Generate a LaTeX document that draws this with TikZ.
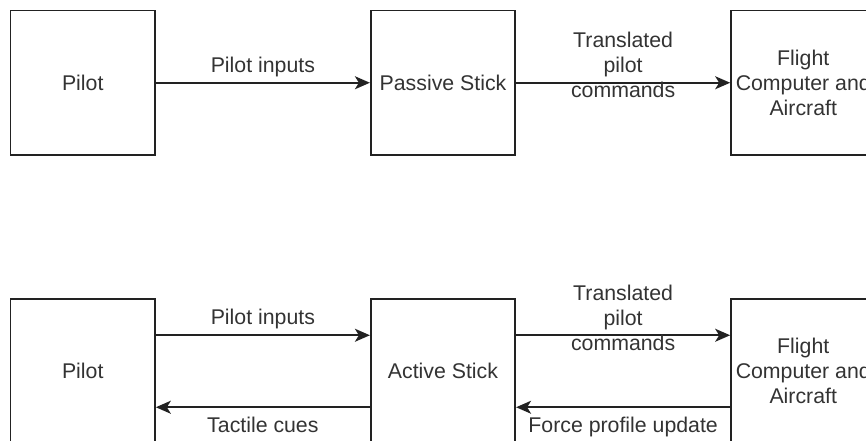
\documentclass[tikz,border=0pt]{standalone}
\usepackage{fontspec}
\setmainfont{Liberation Sans}
\usetikzlibrary{arrows.meta}
\definecolor{linecol}{HTML}{222222}
\definecolor{textcol}{HTML}{333333}
\begin{document}
\begin{tikzpicture}[x=1pt,y=-1pt,
  blockbox/.style={draw=linecol, line width=1.7pt, minimum width=144.5pt,
    minimum height=144.5pt, inner sep=0pt, align=center,
    font=\fontsize{21.3}{25}\selectfont, text=textcol},
  flow/.style={draw=linecol, line width=1.7pt,
    -{Stealth[length=15pt,width=13pt,inset=4pt]}},
  lbl/.style={font=\fontsize{21.3}{25}\selectfont, text=textcol,
    align=center, inner sep=0pt, anchor=base}]
\useasboundingbox (0,0) rectangle (866,441);
\clip (0,0) rectangle (866,441);

% passive stick loop
\node[blockbox] (pilotA)  at (82.75,82.75)  {Pilot};
\node[blockbox] (passive) at (443,82.75)    {Passive Stick};
\node[blockbox] (fcA)     at (803.25,82.75) {Flight\\Computer and\\Aircraft};

\draw[flow] (pilotA) -- node[lbl, yshift=10.5pt] {Pilot inputs} (passive);
\draw[flow] (passive) -- node[lbl, yshift=-15pt] {Translated\\pilot\\commands} (fcA);

% active stick loop
\node[blockbox] (pilotB) at (82.75,371.25)  {Pilot};
\node[blockbox] (active) at (443,371.25)    {Active Stick};
\node[blockbox] (fcB)    at (803.25,371.25) {Flight\\Computer and\\Aircraft};

\draw[flow] ([yshift=36pt]pilotB.east) -- node[lbl, yshift=10.5pt] {Pilot inputs} ([yshift=36pt]active.west);
\draw[flow] ([yshift=36pt]active.east) -- node[lbl, yshift=-15pt] {Translated\\pilot\\commands} ([yshift=36pt]fcB.west);
\draw[flow] ([yshift=-36pt]fcB.west) -- node[lbl, yshift=-24.8pt] {Force profile update} ([yshift=-36pt]active.east);
\draw[flow] ([yshift=-36pt]active.west) -- node[lbl, yshift=-25.6pt] {Tactile cues} ([yshift=-36pt]pilotB.east);
\end{tikzpicture}
\end{document}
